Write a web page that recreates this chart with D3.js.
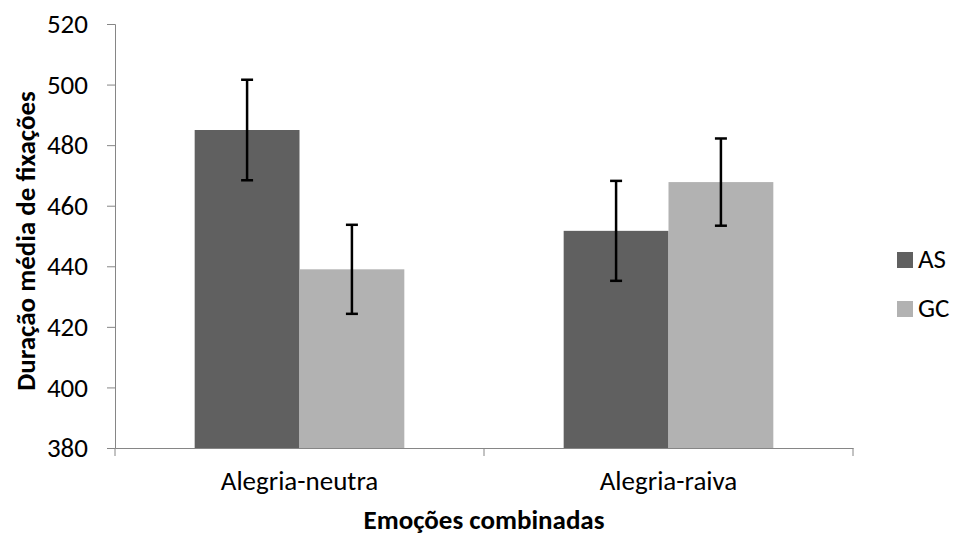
<!DOCTYPE html>
<html><head><meta charset="utf-8">
<script src="https://cdn.jsdelivr.net/npm/d3@7"></script>
<style>body{margin:0;background:#fff}svg{display:block}</style>
</head><body>
<script>
const categories = ["Alegria-neutra", "Alegria-raiva"];
const seriesNames = ["AS", "GC"];
const asValues = [485, 451.7];
const gcValues = [439, 467.8];
const asErrors = [16.6, 16.5];
const gcErrors = [14.7, 14.4];
const yTicks = [380, 400, 420, 440, 460, 480, 500, 520];
const colors = ["#606060", "#b2b2b2"];

const W = 953, H = 535;
const m = {left: 115, right: 100, top: 24, bottom: 87};
const font = "Carlito, Lato, 'Open Sans', sans-serif";
const svg = d3.select("body").append("svg").attr("width", W).attr("height", H)
  .style("font-family", font);

const x = d3.scaleBand().domain(categories).range([m.left, W - m.right]);
const y = d3.scaleLinear().domain([380, 520]).range([H - m.bottom, m.top]);
const xs = d3.scaleBand().domain(seriesNames).range([0, x.bandwidth()]).paddingOuter(0.76).paddingInner(0);

const data = categories.map((c, i) => ({cat: c, vals: [
  {s: "AS", v: asValues[i], e: asErrors[i]},
  {s: "GC", v: gcValues[i], e: gcErrors[i]}]}));

const g = svg.selectAll("g.grp").data(data).enter().append("g")
  .attr("transform", d => `translate(${x(d.cat)},0)`);
g.selectAll("rect").data(d => d.vals).enter().append("rect")
  .attr("x", d => xs(d.s)).attr("width", xs.bandwidth())
  .attr("y", d => y(d.v)).attr("height", d => y(380) - y(d.v))
  .attr("fill", (d, i) => colors[i]);

// axes
const yAxis = d3.axisLeft(y).tickValues(yTicks).tickSize(8).tickPadding(19);
const ya = svg.append("g").attr("transform", `translate(${m.left},0)`).call(yAxis);
ya.select(".domain").attr("stroke", "#868686");
ya.selectAll(".tick line").attr("stroke", "#868686");
ya.selectAll("text").attr("font-size", 27).attr("fill", "#000").style("font-family", font);

const xa = svg.append("g").attr("transform", `translate(0,${y(380)})`)
  .call(d3.axisBottom(x).tickSize(0).tickPadding(23));
xa.select(".domain").attr("stroke", "#868686");
xa.selectAll("text").attr("font-size", 27).attr("fill", "#000").style("font-family", font);
const bounds = [x.range()[0], ...categories.map(c => x(c) + x.bandwidth())];
svg.selectAll("line.sep").data(bounds).enter().append("line")
  .attr("x1", d => d).attr("x2", d => d)
  .attr("y1", y(380)).attr("y2", y(380) + 8).attr("stroke", "#868686");

// error bars
const eb = g.selectAll("g.eb").data(d => d.vals).enter().append("g");
eb.append("line").attr("x1", d => xs(d.s) + xs.bandwidth()/2).attr("x2", d => xs(d.s) + xs.bandwidth()/2)
  .attr("y1", d => y(d.v + d.e)).attr("y2", d => y(d.v - d.e))
  .attr("stroke", "#000").attr("stroke-width", 2.5);
[1, -1].forEach(sign => {
  eb.append("line").attr("x1", d => xs(d.s) + xs.bandwidth()/2 - 6).attr("x2", d => xs(d.s) + xs.bandwidth()/2 + 6)
    .attr("y1", d => y(d.v + sign*d.e)).attr("y2", d => y(d.v + sign*d.e))
    .attr("stroke", "#000").attr("stroke-width", 2.5);
});

// titles
svg.append("text").attr("x", 484).attr("y", 529).attr("text-anchor", "middle")
  .attr("font-size", 27).attr("font-weight", "bold").text("Emoções combinadas");
svg.append("text").attr("transform", `translate(35,241) rotate(-90)`)
  .attr("text-anchor", "middle").attr("font-size", 27).attr("font-weight", "bold")
  .text("Duração média de fixações");

// legend
const lg = svg.selectAll("g.lg").data(seriesNames).enter().append("g")
  .attr("transform", (d, i) => `translate(897,${252 + i*49})`);
lg.append("rect").attr("width", 16).attr("height", 16).attr("fill", (d, i) => colors[i]);
lg.append("text").attr("x", 21).attr("y", 16).attr("font-size", 27).text(d => d);
</script>
</body></html>
